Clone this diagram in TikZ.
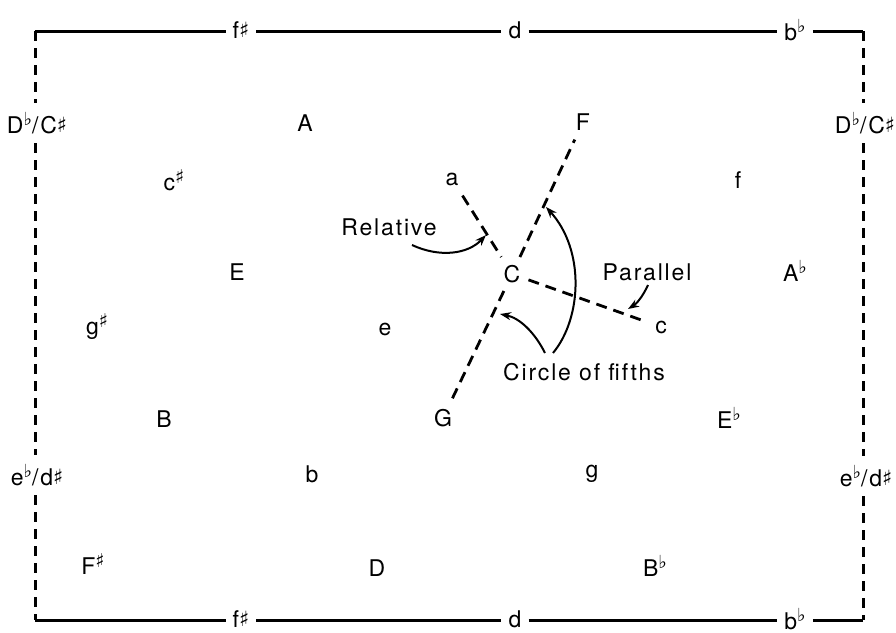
\documentclass[tikz,border=0pt]{standalone}
\usepackage{fontspec}
\setmainfont{TeX Gyre Heros}[LetterSpace=8]
\newfontfamily\symf{DejaVu Sans}
\usetikzlibrary{arrows.meta}
\newcommand\Sh{\raisebox{0.05em}{\fontsize{21}{21}\selectfont\symf ♯}}
\newcommand\Shup{\raisebox{0.3em}{\fontsize{19}{19}\selectfont\symf ♯}}
\newcommand\Fl{\raisebox{0.35em}{\fontsize{18}{18}\selectfont\symf ♭}}
\begin{document}
\begin{tikzpicture}[x=1pt,y=-1pt,
  note/.style={font=\fontsize{23}{27}\selectfont, inner sep=2pt},
  hub/.style={note, inner sep=8pt},
  rimtxt/.style={note, inner xsep=7pt, inner ysep=2pt},
  sidetxt/.style={note, inner xsep=2pt, inner ysep=9pt},
  rim/.style={line width=3pt},
  rimdash/.style={line width=3pt, dash pattern=on 10pt off 7pt},
  idash/.style={line width=2.8pt, dash pattern=on 11pt off 7pt},
  arr/.style={line width=2pt, -{Stealth[length=11pt,width=8pt]}}]
\useasboundingbox (0,0) rectangle (896,632);

% corners
\coordinate (TL) at (35,31);
\coordinate (TR) at (863,31);
\coordinate (BL) at (35,620);
\coordinate (BR) at (863,620);

% rim labels
\node[rimtxt] (tf) at (241,30) {f\Sh};
\node[rimtxt] (td) at (515,30) {d};
\node[rimtxt] (tb) at (795,30) {b\Fl};
\node[rimtxt] (bf) at (241,619) {f\Sh};
\node[rimtxt] (bd) at (515,619) {d};
\node[rimtxt] (bb) at (795,619) {b\Fl};
\node[sidetxt] (lD) at (37,123) {D\Fl/C\Sh};
\node[sidetxt] (le) at (37,475) {e\Fl/d\Sh};
\node[sidetxt] (rD) at (865,123) {D\Fl/C\Sh};
\node[sidetxt] (re) at (866,476) {e\Fl/d\Sh};

% rim lines
\draw[rim] (TL) -- (TL -| tf.west);
\draw[rim] (TL -| tf.east) -- (TL -| td.west);
\draw[rim] (TL -| td.east) -- (TL -| tb.west);
\draw[rim] (TL -| tb.east) -- (TR);
\draw[rim] (BL) -- (BL -| bf.west);
\draw[rim] (BL -| bf.east) -- (BL -| bd.west);
\draw[rim] (BL -| bd.east) -- (BL -| bb.west);
\draw[rim] (BL -| bb.east) -- (BR);
\draw[rimdash] (TL) -- (TL |- lD.north);
\draw[rimdash] (TL |- lD.south) -- (TL |- le.north);
\draw[rimdash] (TL |- le.south) -- (BL);
\draw[rimdash] (TR) -- (TR |- rD.north);
\draw[rimdash] (TR |- rD.south) -- (TR |- re.north);
\draw[rimdash] (TR |- re.south) -- (BR);

% keys
\node[note] (A) at (305,123) {A};
\node[note] (cs) at (174,180) {c\Shup};
\node[note] (E) at (237,272) {E};
\node[note] (gs) at (97,327) {g\Shup};
\node[note] (B) at (164,419) {B};
\node[note] (b) at (312,474) {b};
\node[note] (Fs) at (93,564) {F\Shup};
\node[note] (D) at (377,568) {D};
\node[note] (f) at (738,180) {f};
\node[note] (Af) at (795,271) {A\Fl};
\node[note] (Ef) at (729,418) {E\Fl};
\node[note] (g) at (592,474) {g};
\node[note] (Bf) at (655,566) {B\Fl};
\node[note] (e) at (385,329) {e};

\node[hub] (C) at (512,274) {C};
\node[hub, inner sep=9pt] (F) at (583,122) {F};
\node[hub, inner sep=7pt] (G) at (443,418) {G};
\node[hub, inner sep=10pt] (a) at (452,179) {a};
\node[hub, inner sep=9pt] (c) at (661,327) {c};

\draw[idash] (C) -- (F);
\draw[idash] (C) -- (G);
\draw[idash] (a) -- (C);
\draw[idash] (C) -- (c);

% annotations
\node[note] (rel) at (389,227) {Relative};
\node[note] (par) at (647,272) {Parallel};
\node[note] (cof) at (584,372) {Circle of fifths};

\coordinate (relS) at (412,245);
\coordinate (relE) at (486,235);
\draw[arr] (relS) .. controls (440,258) and (468,254) .. (relE);

\coordinate (parS) at (648,285);
\coordinate (parE) at (628,309);
\draw[arr] (parS) .. controls (642,298) and (636,304) .. (parE);

\coordinate (c1S) at (545,353);
\coordinate (c1E) at (500,314);
\draw[arr] (c1S) .. controls (535,333) and (520,318) .. (c1E);

\coordinate (c2S) at (553,353);
\coordinate (c2E) at (546,207);
\draw[arr] (c2S) .. controls (582,318) and (585,250) .. (c2E);
\end{tikzpicture}
\end{document}
